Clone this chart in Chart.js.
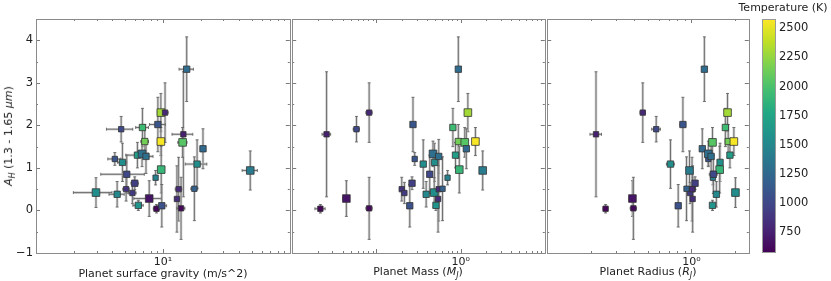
<!DOCTYPE html>
<html>
<head>
<meta charset="utf-8">
<script src="https://cdn.jsdelivr.net/npm/chart.js@4.4.0/dist/chart.umd.min.js"></script>
<style>
  body { margin: 0; background: #fff; }
  #wrap { position: relative; width: 831px; height: 281px; font-family: "DejaVu Sans", sans-serif; color: #222; }
  #wrap canvas { position: absolute; top: 0; }
  .lbl { position: absolute; font-size: 11px; line-height: 1; white-space: nowrap; transform: translate(-50%, -50%); }
  .rot { transform: translate(-50%, -50%) rotate(-90deg); }
</style>
</head>
<body>
<div id="wrap">
  <canvas id="panel1" width="296" height="281" style="left:0px"></canvas>
  <canvas id="panel2" width="265" height="281" style="left:286px"></canvas>
  <canvas id="panel3" width="214" height="281" style="left:541px"></canvas>
  <canvas id="cbar" width="74" height="281" style="left:757px"></canvas>
  <div class="lbl rot" style="left:10px;top:136px"><i>A</i><sub style="font-size:8px"><i>H</i></sub> (1.3 - 1.65 <i>μm</i>)</div>
  <div class="lbl" style="left:163px;top:273px">Planet surface gravity (m/s^2)</div>
  <div class="lbl" style="left:418px;top:273px">Planet Mass (<i>M</i><sub style="font-size:8px"><i>J</i></sub>)</div>
  <div class="lbl" style="left:648px;top:273px">Planet Radius (<i>R</i><sub style="font-size:8px"><i>J</i></sub>)</div>
  <div class="lbl" style="left:783px;top:7px">Temperature (K)</div>
</div>
<script>
// H-band amplitude per planet and its error
const amplitude    = [3.32, 2.30, 2.30, 2.02, 1.91, 1.95, 1.62, 1.62, 1.79, 1.60, 1.45, 1.21, 1.13, 1.30, 1.33, 1.27, 1.09, 0.96, 0.77, 0.94, 0.85, 0.64, 0.42, 0.38, 0.50, 0.41, 0.50, 0.51, 0.28, 0.12, 0.04, 0.11, 0.27, 0.05];
const amplitudeErr = [0.76, 0.45, 0.70, 0.64, 0.30, 0.45, 0.40, 0.33, 1.47, 0.35, 0.47, 0.15, 0.45, 0.30, 0.30, 0.40, 0.57, 0.55, 0.17, 0.46, 0.45, 0.15, 0.35, 0.30, 0.28, 0.25, 0.75, 0.75, 0.42, 0.12, 0.10, 0.50, 0.78, 0.73];
// equilibrium temperature (K)
const temperature  = [1280, 2300, 800, 1100, 1000, 1950, 2150, 2560, 750, 2050, 1250, 1100, 1550, 1680, 1300, 1300, 1550, 1900, 1450, 1400, 1000, 950, 1550, 1500, 870, 920, 810, 1200, 680, 1600, 600, 1080, 830, 620];
// surface gravity (m/s^2)
const gravity      = [15.4, 9.64, 10.4, 9.13, 4.69, 6.9, 7.2, 9.64, 14.5, 14.3, 20.7, 4.18, 4.8, 6.3, 6.85, 7.36, 18.6, 9.7, 8.76, 48.8, 5.19, 6.0, 2.97, 4.36, 5.13, 5.75, 13.3, 17.7, 7.8, 6.4, 8.9, 9.8, 12.9, 13.9];
const gravityErr   = [2.0, 0.6, 0.6, 1.3, 1.1, 0.8, 0.5, 0.5, 2.7, 1.2, 1.0, 0.5, 0.4, 1.2, 0.8, 1.0, 3.6, 0.5, 0.3, 6.7, 1.95, 0.4, 1.0, 0.6, 0.3, 0.4, 0.8, 1.1, 1.9, 0.6, 0.5, 0.9, 0.5, 1.0];
// planet mass (M_J)
const mass         = [0.94, 1.22, 0.082, 0.272, 0.058, 0.81, 0.94, 1.50, 0.0256, 1.12, 1.17, 0.285, 0.49, 0.87, 0.47, 0.55, 0.36, 0.965, 0.70, 1.83, 0.43, 0.265, 0.486, 0.39, 0.20, 0.215, 0.55, 0.61, 0.044, 0.51, 0.0216, 0.249, 0.54, 0.082];
const massErr      = [0.05, 0.06, 0.007, 0.015, 0.005, 0.04, 0.05, 0.05, 0.003, 0.05, 0.05, 0.015, 0.03, 0.04, 0.03, 0.03, 0.02, 0.04, 0.03, 0.08, 0.02, 0.015, 0.03, 0.02, 0.01, 0.01, 0.03, 0.03, 0.004, 0.03, 0.003, 0.015, 0.03, 0.007];
// planet radius (R_J)
const radius       = [1.23, 1.78, 0.46, 0.873, 0.57, 1.72, 1.80, 1.97, 0.218, 1.40, 1.19, 1.31, 1.58, 1.85, 1.31, 1.37, 0.716, 1.57, 1.41, 0.97, 1.42, 1.06, 2.02, 1.49, 1.02, 0.98, 1.01, 0.925, 0.39, 1.40, 0.254, 0.81, 1.02, 0.396];
const radiusErr    = [0.04, 0.05, 0.02, 0.04, 0.04, 0.05, 0.05, 0.05, 0.02, 0.05, 0.04, 0.04, 0.05, 0.05, 0.05, 0.05, 0.045, 0.05, 0.04, 0.04, 0.09, 0.03, 0.08, 0.04, 0.03, 0.03, 0.03, 0.03, 0.02, 0.04, 0.01, 0.03, 0.03, 0.02];

const yTicks = [-1, 0, 1, 2, 3, 4];
const colorTicks = [750, 1000, 1250, 1500, 1750, 2000, 2250, 2500];
const colorRange = [572, 2580];

// marker size class per planet (s/m/l), style only
const markerClass = 'mlsmsmmlslmsmmlmmlslmmlmsssslmsmss';
const classRadius = { s: 3.8, m: 4.5, l: 5.4 };

Chart.defaults.font.family = '"DejaVu Sans", sans-serif';
Chart.defaults.font.size = 11;
Chart.defaults.color = '#222';

const viridisStops = ['#440154','#482475','#414487','#355f8d','#2a788e','#21918c','#22a884','#44bf70','#7ad151','#bddf26','#fde725'];
function hexRgb(h) { return [1, 3, 5].map(i => parseInt(h.substr(i, 2), 16)); }
function viridis(t) {
    t = Math.min(1, Math.max(0, t));
    const f = t * 10, i = Math.min(9, Math.floor(f)), u = f - i;
    const a = hexRgb(viridisStops[i]), b = hexRgb(viridisStops[i + 1]);
    const c = a.map((v, k) => Math.round(v + (b[k] - v) * u));
    return `rgb(${c[0]},${c[1]},${c[2]})`;
}
const pointColors = temperature.map(T => viridis((T - colorRange[0]) / (colorRange[1] - colorRange[0])));
const pointRadii = markerClass.split('').map(c => classRadius[c]);

// error bars drawn through the chart scales
const errorBars = {
    id: 'errorBars',
    beforeDatasetsDraw(chart) {
        const { ctx, chartArea: a, scales: { x, y } } = chart;
        ctx.save();
        ctx.beginPath();
        ctx.rect(a.left, a.top, a.right - a.left, a.bottom - a.top);
        ctx.clip();
        chart.data.datasets.forEach(ds => {
            ds.data.forEach((p, i) => {
                const px = x.getPixelForValue(p.x), py = y.getPixelForValue(p.y);
                const lo = Math.max(p.x - ds.xErr[i], x.min);
                const xl = x.getPixelForValue(lo), xr = x.getPixelForValue(p.x + ds.xErr[i]);
                const yt = y.getPixelForValue(p.y + ds.yErr[i]), yb = y.getPixelForValue(p.y - ds.yErr[i]);
                // soft halo then core line
                ctx.strokeStyle = 'rgba(190,190,190,0.7)';
                ctx.lineWidth = 2.6;
                ctx.beginPath();
                ctx.moveTo(px, yt); ctx.lineTo(px, yb);
                ctx.moveTo(xl, py); ctx.lineTo(xr, py);
                ctx.stroke();
                ctx.strokeStyle = 'rgba(95,95,95,0.85)';
                ctx.lineWidth = 1;
                ctx.beginPath();
                ctx.moveTo(px, yt); ctx.lineTo(px, yb);
                ctx.moveTo(xl, py); ctx.lineTo(xr, py);
                ctx.moveTo(px - 1.5, yt); ctx.lineTo(px + 1.5, yt);
                ctx.moveTo(px - 1.5, yb); ctx.lineTo(px + 1.5, yb);
                ctx.moveTo(xl, py - 1.5); ctx.lineTo(xl, py + 1.5);
                ctx.moveTo(xr, py - 1.5); ctx.lineTo(xr, py + 1.5);
                ctx.stroke();
            });
        });
        ctx.restore();
    }
};

// panel frame with inward ticks on all four sides
const frameTicks = {
    id: 'frameTicks',
    afterDatasetsDraw(chart) {
        const { ctx, chartArea: a, scales: { x, y } } = chart;
        ctx.save();
        ctx.strokeStyle = '#7a7a7a';
        ctx.lineWidth = 1;
        ctx.beginPath();
        for (let i = -2; i <= 9; i++) {
            const v = i / 2;
            const py = Math.round(y.getPixelForValue(v)) + 0.5;
            const len = i % 2 === 0 ? 4 : 2;
            ctx.moveTo(a.left, py); ctx.lineTo(a.left + len, py);
            ctx.moveTo(a.right, py); ctx.lineTo(a.right - len, py);
        }
        const k0 = Math.floor(Math.log10(x.min)), k1 = Math.ceil(Math.log10(x.max));
        for (let k = k0; k <= k1; k++) {
            for (let m = 1; m <= 9; m++) {
                const v = m * Math.pow(10, k);
                if (v <= x.min * 1.001 || v >= x.max * 0.999) continue;
                const px = Math.round(x.getPixelForValue(v)) + 0.5;
                const len = m === 1 ? 4 : 2;
                ctx.moveTo(px, a.top); ctx.lineTo(px, a.top + len);
                ctx.moveTo(px, a.bottom); ctx.lineTo(px, a.bottom - len);
            }
        }
        ctx.stroke();
        ctx.strokeStyle = '#8a8a8a';
        ctx.lineWidth = 1;
        ctx.strokeRect(Math.round(a.left) + 0.5, Math.round(a.top) + 0.5,
            Math.round(a.right - a.left), Math.round(a.bottom - a.top));
        ctx.restore();
    }
};

function makePanel(id, xs, xErr, xMin, xMax, labelValue, labelText, showY, padding) {
    const data = xs.map((v, i) => ({ x: v, y: amplitude[i] }));
    return new Chart(document.getElementById(id), {
        type: 'scatter',
        data: {
            datasets: [{
                data: data,
                xErr: xErr,
                yErr: amplitudeErr,
                pointStyle: 'rect',
                pointRadius: pointRadii,
                backgroundColor: pointColors,
                borderColor: '#333',
                borderWidth: 0.8
            }]
        },
        options: {
            responsive: false,
            animation: false,
            events: [],
            layout: { padding: padding },
            plugins: { legend: { display: false }, tooltip: { enabled: false } },
            scales: {
                x: {
                    type: 'logarithmic',
                    min: xMin,
                    max: xMax,
                    grid: { display: false, drawTicks: false },
                    border: { display: false },
                    afterBuildTicks: s => { s.ticks = [{ value: labelValue }]; },
                    ticks: { callback: () => labelText, padding: 3, maxRotation: 0, autoSkip: false, font: { size: 11 } },
                    afterFit: s => { s.height = 28; }
                },
                y: {
                    display: showY,
                    min: -1,
                    max: 4.5,
                    grid: { display: false, drawTicks: false },
                    border: { display: false },
                    afterBuildTicks: s => { s.ticks = yTicks.map(v => ({ value: v })); },
                    ticks: { callback: v => v < 0 ? '\u2212' + Math.abs(v) : String(v), padding: 3, font: { size: 11.5 } },
                    afterFit: s => { s.width = showY ? 36 : 0; }
                }
            }
        },
        plugins: [errorBars, frameTicks]
    });
}

makePanel('panel1', gravity, gravityErr, 1, 100, 10, '10\u00b9', true, { left: 0, right: 5, top: 19, bottom: 0 });
makePanel('panel2', mass, massErr, 0.01, 10, 1, '10\u2070', false, { left: 5, right: 5, top: 19, bottom: 0 });
makePanel('panel3', radius, radiusErr, 0.1, 2.5, 1, '10\u2070', false, { left: 5, right: 5, top: 19, bottom: 0 });

// colour bar
const colorFill = {
    id: 'colorFill',
    beforeDatasetsDraw(chart) {
        const { ctx, chartArea: a } = chart;
        const g = ctx.createLinearGradient(0, a.bottom, 0, a.top);
        viridisStops.forEach((c, i) => g.addColorStop(i / 10, c));
        ctx.save();
        ctx.fillStyle = g;
        ctx.fillRect(a.left, a.top, a.right - a.left, a.bottom - a.top);
        ctx.strokeStyle = '#9a9a9a';
        ctx.lineWidth = 1;
        ctx.strokeRect(a.left + 0.5, a.top + 0.5, a.right - a.left - 1, a.bottom - a.top - 1);
        ctx.restore();
    }
};
new Chart(document.getElementById('cbar'), {
    type: 'scatter',
    data: { datasets: [{ data: [] }] },
    options: {
        responsive: false,
        animation: false,
        events: [],
        layout: { padding: { left: 5, right: 0, top: 19, bottom: 28 } },
        plugins: { legend: { display: false }, tooltip: { enabled: false } },
        scales: {
            x: { display: false, min: 0, max: 1 },
            y: {
                position: 'right',
                min: colorRange[0],
                max: colorRange[1],
                grid: { display: false, drawTicks: false },
                border: { display: false },
                afterBuildTicks: s => { s.ticks = colorTicks.map(v => ({ value: v })); },
                ticks: { callback: v => String(v), padding: 3, font: { size: 11.5 } },
                afterFit: s => { s.width = 55; }
            }
        }
    },
    plugins: [colorFill]
});
</script>
</body>
</html>
